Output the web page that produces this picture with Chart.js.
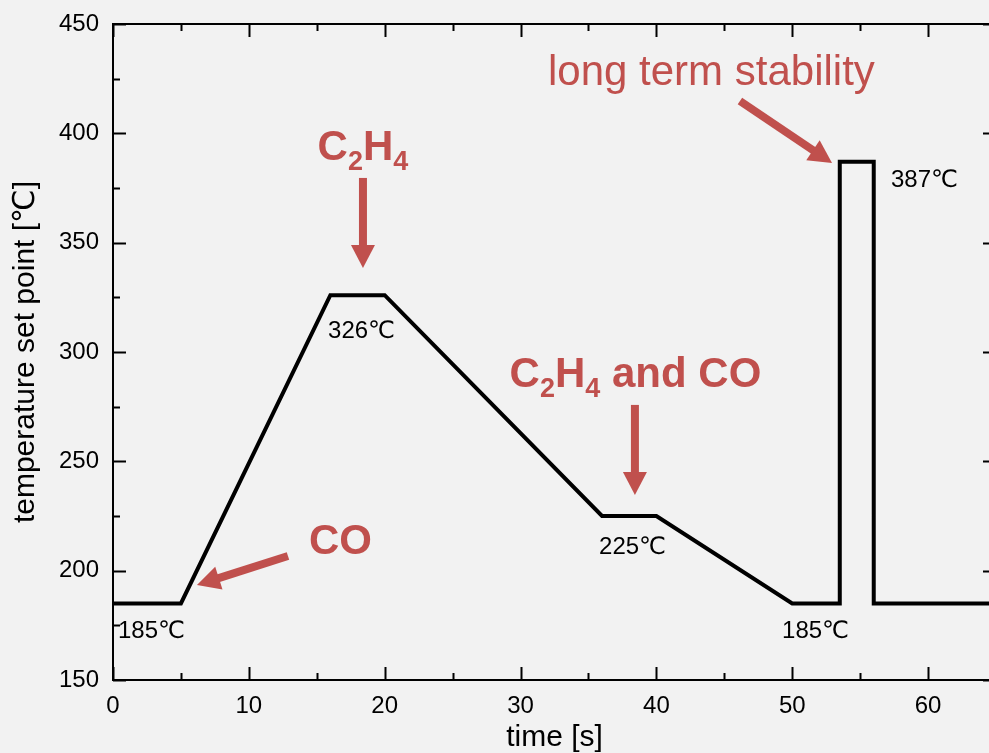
<!DOCTYPE html>
<html>
<head>
<meta charset="utf-8">
<script src="https://cdn.jsdelivr.net/npm/chart.js@4"></script>
<style>
  html, body { margin: 0; padding: 0; background: #f2f2f2; overflow: hidden; }
  #wrap { width: 1000px; height: 753px; }
</style>
</head>
<body>
<div id="wrap"><canvas id="chart" width="1000" height="753"></canvas></div>
<script>
// temperature program: time [s] vs set point [℃]
const timeS = [0, 5, 16, 20, 36, 40, 50, 53.5, 53.5, 56, 56, 65];
const tempC = [185, 185, 326, 326, 225, 225, 185, 185, 387, 387, 185, 185];

const xMajor = [0, 10, 20, 30, 40, 50, 60];
const xMinor = [5, 15, 25, 35, 45, 55];
const yMajor = [150, 200, 250, 300, 350, 400, 450];
const yMinor = [175, 225, 275, 325, 375, 425];

// plateau labels (data coords, left edge / baseline)
const plateauText = ['185℃', '326℃', '225℃', '185℃', '387℃'];
const plateauX = [0.37, 15.83, 35.78, 49.25, 57.27];
const plateauY = [169.2, 306.4, 207.6, 169.2, 375.5];

// gas annotations, parts: [text, isSubscript]
const notes = [
  { parts: [['C'], ['2', 1], ['H'], ['4', 1]], x: 18.40, y: 387.8, bold: true },
  { parts: [['CO']], x: 16.75, y: 207.6, bold: true },
  { parts: [['C'], ['2', 1], ['H'], ['4', 1], [' and CO']], x: 38.46, y: 284.0, bold: true },
  { parts: [['long term stability']], x: 44.05, y: 422.1, bold: false }
];
const arrows = [
  [18.40, 379.6, 18.40, 338.4],
  [12.88, 206.7, 6.18, 193.4],
  [38.42, 275.8, 38.42, 234.6],
  [46.15, 414.8, 52.93, 386.4]
];

const FONT = "'Liberation Sans', Arial, 'DejaVu Sans', sans-serif";
const RED = '#c0504d';

function drawArrow(ctx, x1, y1, x2, y2) {
  const dx = x2 - x1, dy = y2 - y1, len = Math.hypot(dx, dy);
  const ux = dx / len, uy = dy / len, hl = 23, hw = 12;
  const bx = x2 - ux * hl, by = y2 - uy * hl;
  ctx.lineWidth = 8;
  ctx.beginPath(); ctx.moveTo(x1, y1); ctx.lineTo(bx + ux, by + uy); ctx.stroke();
  ctx.beginPath();
  ctx.moveTo(x2, y2);
  ctx.lineTo(bx - uy * hw, by + ux * hw);
  ctx.lineTo(bx + uy * hw, by - ux * hw);
  ctx.closePath(); ctx.fill();
}

const framePlugin = {
  id: 'frame',
  afterDatasetsDraw(chart) {
    const {ctx, chartArea: a, scales: {x, y}} = chart;
    ctx.save();
    ctx.strokeStyle = '#000';
    ctx.lineWidth = 2;
    ctx.strokeRect(a.left, a.top, a.right - a.left, a.bottom - a.top);
    ctx.beginPath();
    const xt = (vals, len) => vals.forEach(v => {
      const p = Math.round(x.getPixelForValue(v)) + 0.5;
      ctx.moveTo(p, a.bottom); ctx.lineTo(p, a.bottom - len);
      ctx.moveTo(p, a.top); ctx.lineTo(p, a.top + len);
    });
    const yt = (vals, len) => vals.forEach(v => {
      const p = Math.round(y.getPixelForValue(v)) + 0.5;
      ctx.moveTo(a.left, p); ctx.lineTo(a.left + len, p);
      ctx.moveTo(a.right, p); ctx.lineTo(a.right - len, p);
    });
    xt(xMajor, 13); xt(xMinor, 7); yt(yMajor, 13); yt(yMinor, 7);
    ctx.stroke();

    // plateau temperatures
    ctx.fillStyle = '#000';
    ctx.font = '24px ' + FONT;
    ctx.textBaseline = 'alphabetic';
    ctx.textAlign = 'left';
    plateauText.forEach((t, i) => {
      ctx.fillText(t, x.getPixelForValue(plateauX[i]), y.getPixelForValue(plateauY[i]));
    });

    // red notes
    ctx.fillStyle = RED;
    ctx.strokeStyle = RED;
    notes.forEach(n => {
      const w = n.bold ? 'bold ' : '';
      const mainF = w + '42px ' + FONT, subF = w + '27px ' + FONT;
      let total = 0;
      n.parts.forEach(p => { ctx.font = p[1] ? subF : mainF; total += ctx.measureText(p[0]).width; });
      let cx = x.getPixelForValue(n.x) - total / 2;
      const by = y.getPixelForValue(n.y);
      n.parts.forEach(p => {
        ctx.font = p[1] ? subF : mainF;
        ctx.fillText(p[0], cx, by + (p[1] ? 10 : 0));
        cx += ctx.measureText(p[0]).width;
      });
    });
    arrows.forEach(r => drawArrow(ctx,
      x.getPixelForValue(r[0]), y.getPixelForValue(r[1]),
      x.getPixelForValue(r[2]), y.getPixelForValue(r[3])));
    ctx.restore();
  }
};

new Chart(document.getElementById('chart'), {
  type: 'line',
  data: {
    datasets: [{
      data: timeS.map((t, i) => ({x: t, y: tempC[i]})),
      borderColor: '#000',
      borderWidth: 4,
      borderJoinStyle: 'miter',
      pointRadius: 0,
      tension: 0,
      fill: false
    }]
  },
  options: {
    responsive: false,
    animation: false,
    events: [],
    layout: { padding: { top: 24, right: 4, left: 0, bottom: 0 } },
    plugins: { legend: { display: false }, tooltip: { enabled: false } },
    scales: {
      x: {
        type: 'linear', min: 0, max: 65,
        afterBuildTicks: s => { s.ticks = xMajor.map(v => ({value: v})); },
        afterFit: s => { s.height = 73; s.paddingLeft = 0; s.paddingRight = 0; },
        grid: { display: false, drawTicks: false, tickLength: 0 },
        border: { display: false },
        ticks: { color: '#000', font: { family: FONT, size: 24 }, padding: 12, maxRotation: 0 },
        title: { display: true, text: 'time [s]', color: '#000',
                 font: { family: FONT, size: 30, lineHeight: 1 }, padding: { top: 0, bottom: 0 } }
      },
      y: {
        type: 'linear', min: 150, max: 450,
        afterBuildTicks: s => { s.ticks = yMajor.map(v => ({value: v})); },
        afterFit: s => { s.width = 113; s.paddingTop = 0; s.paddingBottom = 0; },
        grid: { display: false, drawTicks: false, tickLength: 0 },
        border: { display: false },
        ticks: { color: '#000', font: { family: FONT, size: 24 }, padding: 14 },
        title: { display: true, text: 'temperature set point [℃]', color: '#000',
                 font: { family: FONT, size: 30, lineHeight: 1 }, padding: { top: 11, bottom: 0 } }
      }
    }
  },
  plugins: [framePlugin]
});
</script>
</body>
</html>
